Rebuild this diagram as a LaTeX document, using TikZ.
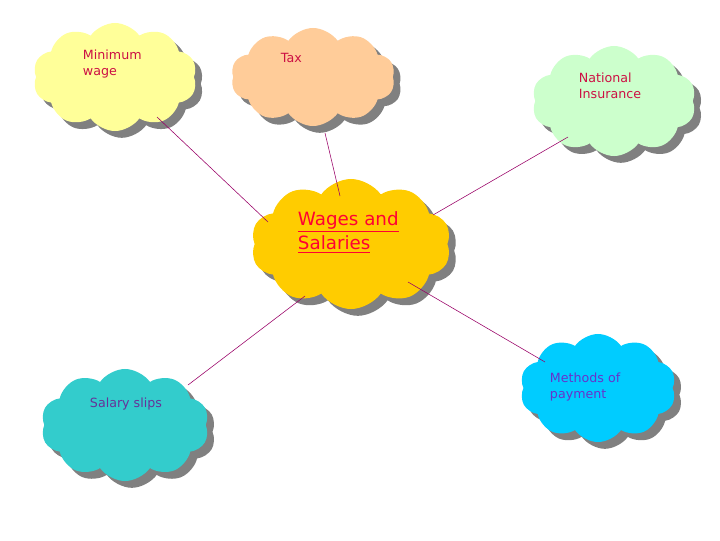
\documentclass[tikz,border=0pt]{standalone}
\usepackage{fontspec}
\setmainfont{DejaVu Sans}
\usepackage{xcolor}
\usetikzlibrary{positioning, shapes.symbols, shadows}

\definecolor{wagefill}{HTML}{FFFF99}
\definecolor{taxfill}{HTML}{FFCC99}
\definecolor{nifill}{HTML}{CCFFCC}
\definecolor{mainfill}{HTML}{FFCC00}
\definecolor{slipfill}{HTML}{33CCCC}
\definecolor{payfill}{HTML}{00CCFF}
\definecolor{redtext}{HTML}{CC1144}
\definecolor{maintext}{HTML}{FF0033}
\definecolor{purpletext}{HTML}{663399}
\definecolor{bluetext}{HTML}{6633CC}
\definecolor{linkcol}{HTML}{990066}

\begin{document}
\begin{tikzpicture}[
    x=0.025cm, y=-0.025cm,
    bubble/.style={cloud, cloud puffs=10, cloud puff arc=110, cloud ignores aspect, draw=none,
    drop shadow={shadow xshift=0.17cm, shadow yshift=-0.17cm, fill=gray, opacity=1}},
    note/.style={anchor=north west, align=left, font=\fontsize{9}{11}\selectfont},
    link/.style={draw=linkcol, line width=0.4pt},
]
\useasboundingbox (0,0) rectangle (720,540);

% clouds
\node[bubble, fill=wagefill, minimum width=4.1cm, minimum height=2.7cm] (wage) at (115,77) {};
\node[bubble, fill=taxfill, minimum width=4.1cm, minimum height=2.45cm] (tax) at (313,77) {};
\node[bubble, fill=nifill, minimum width=4.1cm, minimum height=2.75cm] (ni) at (614,101) {};
\node[bubble, fill=mainfill, minimum width=5cm, minimum height=3.25cm] (main) at (351,244) {};
\node[bubble, fill=slipfill, minimum width=4.2cm, minimum height=2.8cm] (slip) at (125,425) {};
\node[bubble, fill=payfill, minimum width=3.9cm, minimum height=2.7cm] (pay) at (598,388) {};

% texts
\node[note, text=redtext] (wagetext) at (78,45) {Minimum\\wage};
\node[note, text=redtext] (taxtext) at (276,48) {Tax};
\node[note, text=redtext] (nitext) at (574,68) {National\\Insurance};
\node[note, text=maintext, font=\fontsize{13}{17}\selectfont] (maintext) at (293,207)
    {\underline{Wages and}\\\underline{Salaries}};
\node[note, text=purpletext] (sliptext) at (85,393) {Salary slips};
\node[note, text=bluetext] (paytext) at (545,368) {Methods of\\payment};

% link ends
\coordinate (w1) at (157,117);
\coordinate (w2) at (268,222);
\coordinate (t1) at (325,133);
\coordinate (t2) at (340,196);
\coordinate (n1) at (568,137);
\coordinate (n2) at (433,215);
\coordinate (s1) at (188,385);
\coordinate (s2) at (305,296);
\coordinate (p1) at (408,282);
\coordinate (p2) at (545,362);

\draw[link] (w1) -- (w2);
\draw[link] (t1) -- (t2);
\draw[link] (n1) -- (n2);
\draw[link] (s1) -- (s2);
\draw[link] (p1) -- (p2);

\end{tikzpicture}
\end{document}
